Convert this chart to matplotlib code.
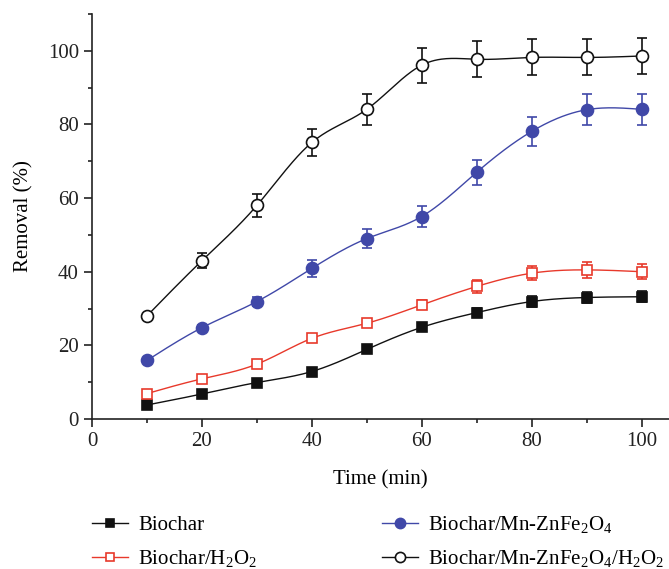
import matplotlib.pyplot as plt
import numpy as np
from matplotlib.ticker import MultipleLocator

plt.rcParams['font.family'] = ['Liberation Serif', 'DejaVu Serif']
plt.rcParams['mathtext.fontset'] = 'custom'
plt.rcParams['mathtext.rm'] = 'Liberation Serif'

time = np.array([10, 20, 30, 40, 50, 60, 70, 80, 90, 100])

biochar = np.array([3.8, 6.8, 9.9, 12.9, 18.9, 24.9, 28.9, 31.9, 33.0, 33.2])
biochar_err = np.array([0.6, 0.6, 0.7, 0.8, 0.9, 1.0, 1.2, 1.5, 1.5, 1.5])

h2o2 = np.array([6.9, 10.9, 14.9, 21.9, 26.0, 31.0, 36.0, 39.6, 40.5, 40.0])
h2o2_err = np.array([1.0, 1.0, 1.0, 0.9, 0.8, 1.2, 1.8, 1.9, 2.2, 2.1])

mnzn = np.array([15.9, 24.8, 31.9, 40.9, 49.0, 55.0, 67.0, 78.1, 84.0, 84.1])
mnzn_err = np.array([0.6, 0.8, 1.2, 2.2, 2.5, 2.8, 3.4, 3.9, 4.2, 4.2])

mnzn_h2o2 = np.array([28.0, 43.0, 58.0, 75.1, 84.1, 96.1, 97.7, 98.2, 98.2, 98.6])
mnzn_h2o2_err = np.array([0.5, 2.1, 3.0, 3.8, 4.2, 4.8, 4.9, 4.9, 4.9, 4.9])


def natural_spline(x, y, n=300):
    # natural cubic spline through the points
    k = len(x)
    h = np.diff(x)
    A = np.zeros((k, k))
    b = np.zeros(k)
    A[0, 0] = A[-1, -1] = 1
    for i in range(1, k - 1):
        A[i, i - 1] = h[i - 1]
        A[i, i] = 2 * (h[i - 1] + h[i])
        A[i, i + 1] = h[i]
        b[i] = 6 * ((y[i + 1] - y[i]) / h[i] - (y[i] - y[i - 1]) / h[i - 1])
    M = np.linalg.solve(A, b)
    xs = np.linspace(x[0], x[-1], n)
    idx = np.clip(np.searchsorted(x, xs) - 1, 0, k - 2)
    x0, x1 = x[idx], x[idx + 1]
    hh = x1 - x0
    t0, t1 = x1 - xs, xs - x0
    ys = (M[idx] * t0**3 + M[idx + 1] * t1**3) / (6 * hh) \
        + (y[idx] / hh - M[idx] * hh / 6) * t0 \
        + (y[idx + 1] / hh - M[idx + 1] * hh / 6) * t1
    return xs, ys


fig = plt.figure(figsize=(6.69, 5.69), dpi=100)
ax = fig.add_axes([92 / 669, 1 - 419 / 569, 577 / 669, 405 / 569])

series = [
    (biochar, biochar_err, '#111111', 's', '#111111', 7.2, 'Biochar'),
    (h2o2, h2o2_err, '#e8392b', 's', 'white', 7.2, 'Biochar/H$_2$O$_2$'),
    (mnzn, mnzn_err, '#4048a8', 'o', '#4048a8', 8.6, 'Biochar/Mn-ZnFe$_2$O$_4$'),
    (mnzn_h2o2, mnzn_h2o2_err, '#111111', 'o', 'white', 8.6,
     'Biochar/Mn-ZnFe$_2$O$_4$/H$_2$O$_2$'),
]

handles = []
for y, err, color, marker, face, ms, label in series:
    xs, ys = natural_spline(time.astype(float), y)
    ax.plot(xs, ys, color=color, lw=1.0, zorder=2)
    ax.errorbar(time, y, yerr=err, fmt='none', ecolor=color, elinewidth=1.2,
                capsize=3.5, capthick=1.2, zorder=3)
    ax.plot(time, y, ls='none', marker=marker, ms=ms, mfc=face, mec=color,
            mew=1.2, zorder=4)
    h, = ax.plot([], [], color=color, lw=1.0, marker=marker, ms=ms * 0.85,
                 mfc=face, mec=color, mew=1.2, label=label)
    handles.append(h)

ax.set_xlim(0, 105)
ax.set_ylim(0, 110)
ax.xaxis.set_major_locator(MultipleLocator(20))
ax.xaxis.set_minor_locator(MultipleLocator(10))
ax.yaxis.set_major_locator(MultipleLocator(20))
ax.yaxis.set_minor_locator(MultipleLocator(10))
ax.spines['top'].set_visible(False)
ax.spines['right'].set_visible(False)
for s in ('left', 'bottom'):
    ax.spines[s].set_linewidth(1.2)
    ax.spines[s].set_color('#222222')
ax.tick_params(which='major', length=6, width=1.2, labelsize=15, colors='#222222')
ax.tick_params(which='minor', length=3, width=1.2, colors='#222222')
ax.set_xlabel('Time (min)', fontsize=15, labelpad=14)
ax.set_ylabel('Removal (%)', fontsize=15, labelpad=10)

fig.legend(handles=handles, ncol=2, loc='upper left',
           bbox_to_anchor=(92 / 669, 1 - 514 / 569), frameon=False,
           fontsize=15, handlelength=1.73, handletextpad=0.48,
           columnspacing=6.0, labelspacing=0.62, borderaxespad=0,
           borderpad=0)

fig.savefig('out.png', dpi=100)
